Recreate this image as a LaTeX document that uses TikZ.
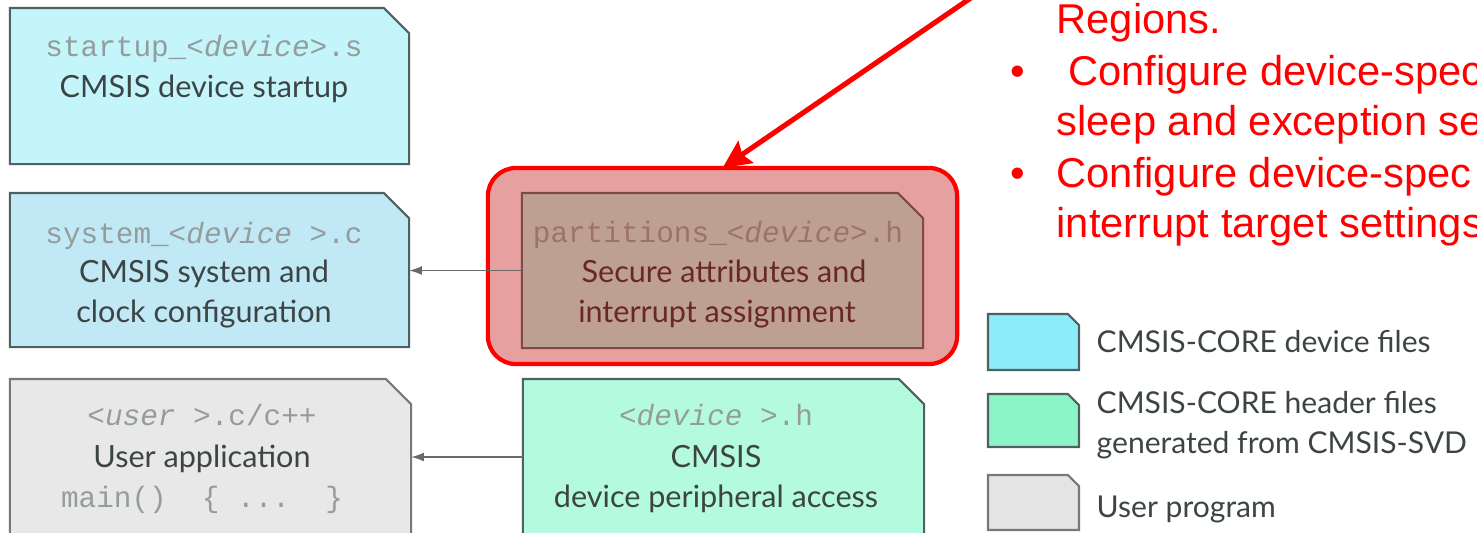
\documentclass[tikz,border=0pt]{standalone}
\usepackage{fontspec}
\setmainfont{Lato}
\setmonofont{Liberation Mono}
\newfontfamily\notefont{Liberation Sans}
\usetikzlibrary{arrows.meta}

% fills and strokes
\definecolor{startfill}{RGB}{196,245,250}
\definecolor{sysfill}{RGB}{192,232,245}
\definecolor{userfill}{RGB}{232,232,232}
\definecolor{devfill}{RGB}{180,250,222}
\definecolor{partfill}{RGB}{190,160,146}
\definecolor{pinkfill}{RGB}{231,160,160}
\definecolor{edgecyan}{RGB}{80,96,96}
\definecolor{edgegray}{RGB}{120,120,120}
\definecolor{edgepart}{RGB}{125,75,68}
\definecolor{keycyan}{RGB}{140,236,250}
\definecolor{keygreen}{RGB}{140,245,200}
\definecolor{keygray}{RGB}{228,228,228}
\definecolor{txtmain}{RGB}{60,68,68}
\definecolor{txtmono}{RGB}{148,156,156}
\definecolor{txtpart}{RGB}{105,40,38}
\definecolor{txtpartmono}{RGB}{155,115,105}
\definecolor{wire}{RGB}{105,105,105}

% file shape with a cut top-right corner, drawn round a placeholder node
\newcommand\cutsize{7.2pt}
\newcommand\fileshape[2]{%
  \path[#2] (#1.south west) -- (#1.north west)
    -- ([xshift=-\cutsize]#1.north east) -- ([yshift=-\cutsize]#1.north east)
    -- (#1.south east) -- cycle;}

\tikzset{
  slot/.style={draw=none, inner sep=0pt, outer sep=0pt},
  mainline/.style={anchor=base, inner sep=0pt, text=txtmain,
    font=\fontsize{8.7}{10}\selectfont},
  monoline/.style={anchor=base, inner sep=0pt, text=txtmono,
    font=\ttfamily\fontsize{8.35}{9}\selectfont},
  keytext/.style={anchor=base west, inner sep=0pt, text=txtmain,
    font=\fontsize{8.55}{10}\selectfont},
  note/.style={anchor=base west, inner sep=0pt, text=red,
    font=\notefont\fontsize{11.85}{14}\selectfont},
  wirearrow/.style={draw=wire, line width=0.45pt,
    -{Latex[length=3.6pt,width=2.5pt]}},
  callout/.style={draw=red, line width=1.45pt,
    -{Stealth[length=8pt,width=7.5pt,inset=1.2pt]}},
}

\begin{document}
\begin{tikzpicture}[x=0.01cm, y=-0.01cm]
\useasboundingbox (0,0) rectangle (1477,532);
\clip (0,0) rectangle (1477,532);

% highlight frame round the partitions file
\node[slot, draw=red, line width=1.2pt, rounded corners=8pt, fill=pinkfill,
      minimum width=4.69cm, minimum height=1.96cm] (hl) at (722.5,266) {};

% placeholders fixing each file's outline
\node[slot, minimum width=3.99cm, minimum height=1.56cm] (start) at (209.5,86) {};
\node[slot, minimum width=3.99cm, minimum height=1.54cm] (sys) at (209.5,270) {};
\node[slot, minimum width=4.01cm, minimum height=1.81cm] (user) at (210.5,469.5) {};
\node[slot, minimum width=4.01cm, minimum height=1.55cm] (part) at (722.5,270.5) {};
\node[slot, minimum width=4.01cm, minimum height=1.81cm] (dev) at (723.5,469.5) {};

\fileshape{start}{fill=startfill, draw=edgecyan, line width=0.6pt}
\fileshape{sys}{fill=sysfill, draw=edgecyan, line width=0.6pt}
\fileshape{user}{fill=userfill, draw=edgegray, line width=0.6pt}
\fileshape{dev}{fill=devfill, draw=edgecyan, line width=0.6pt}

% startup file
\node[monoline] (startf) at (204,56) {startup\_<\textit{device}>.s};
\node[mainline] (startt) at (204,97) {CMSIS device startup};

% system file
\node[monoline] (sysf) at (204,243) {system\_<\textit{device} >.c};
\node[mainline] (syst1) at (204,282) {CMSIS system and};
\node[mainline] (syst2) at (204,322) {clock configuration};

% user application
\node[monoline] (userf) at (202,425) {<\textit{user} >.c/c++};
\node[mainline] (usert) at (202,467) {User application};
\node[monoline] (userm) at (202,507) {main()~~\{~...~~\}};

% device header
\node[monoline] (devf) at (716,425) {<\textit{device} >.h};
\node[mainline] (devt1) at (716,467) {CMSIS};
\node[mainline] (devt2) at (716,507) {device peripheral access};

% include relations
\draw[wirearrow] (part.west) -- (sys.east |- part.west);
\draw[wirearrow] (dev.west |- 0,457) -- (user.east |- 0,457);

% partitions file inside the frame
\fileshape{part}{fill=partfill, draw=edgepart, line width=0.6pt}
\node[monoline, text=txtpartmono] (partf) at (718,242) {partitions\_<\textit{device}>.h};
\node[mainline, text=txtpart] (partt1) at (724,282) {Secure attributes and};
\node[mainline, text=txtpart] (partt2) at (717,322) {interrupt assignment};

% key
\node[slot, minimum width=0.91cm, minimum height=0.56cm] (k1) at (1033.5,342) {};
\node[slot, minimum width=0.91cm, minimum height=0.53cm] (k2) at (1033.5,420.5) {};
\node[slot, minimum width=0.91cm, minimum height=0.55cm] (k3) at (1033.5,502.5) {};
\renewcommand\cutsize{3.2pt}
\fileshape{k1}{fill=keycyan, draw=edgecyan, line width=0.6pt}
\fileshape{k2}{fill=keygreen, draw=edgecyan, line width=0.6pt}
\fileshape{k3}{fill=keygray, draw=edgegray, line width=0.6pt}
\node[keytext] (k1t) at (1096,352) {CMSIS-CORE device files};
\node[keytext] (k2t1) at (1096,413) {CMSIS-CORE header files};
\node[keytext] (k2t2) at (1096,453) {generated from CMSIS-SVD};
\node[keytext] (k3t) at (1096,517) {User program};

% note in red
\node[note] (n1) at (1056,33) {Regions.};
\node[note] (b1) at (1010,85) {•};
\node[note] (n2) at (1056,85) {~Configure device-spec};
\node[note] (n3) at (1056,135) {sleep and exception se};
\node[note] (b2) at (1010,187) {•};
\node[note] (n4) at (1056,187) {Configure device-spec};
\node[note] (n5) at (1056,237) {interrupt target settings};

% call-out arrow from the note
\coordinate (from) at (997,-20);
\draw[callout] (from) -- (hl.north);
\end{tikzpicture}
\end{document}
